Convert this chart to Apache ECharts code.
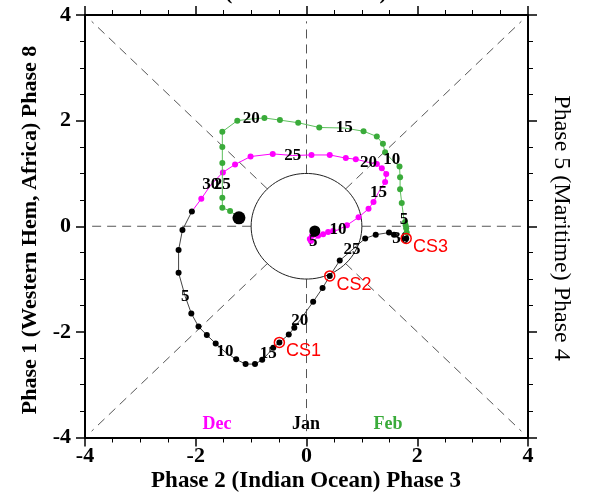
<!DOCTYPE html>
<html>
<head>
<meta charset="utf-8">
<script src="https://cdn.jsdelivr.net/npm/echarts@6/dist/echarts.min.js"></script>
<style>
  html, body { margin: 0; padding: 0; background: #ffffff; }
  #chart { width: 594px; height: 499px; }
</style>
</head>
<body>
<div id="chart"></div>
<script>
// RMM1 / RMM2 daily positions, one pair of arrays per month
const decX = [0.15, 0.10, 0.06, 0.08, 0.12, 0.21, 0.30, 0.39, 0.48, 0.57, 0.73, 0.94, 1.12, 1.21, 1.30, 1.42, 1.44, 1.36, 1.27, 1.12, 0.89, 0.71, 0.42, 0.09, -0.25, -0.61, -1.01, -1.29, -1.51, -1.73, -1.90];
const decY = [-0.09, -0.18, -0.24, -0.28, -0.30, -0.18, -0.15, -0.11, -0.09, -0.07, 0.02, 0.17, 0.33, 0.46, 0.64, 0.84, 0.99, 1.10, 1.18, 1.21, 1.27, 1.29, 1.35, 1.35, 1.34, 1.37, 1.32, 1.17, 1.02, 0.78, 0.52];

const janX = [-2.07, -2.24, -2.31, -2.31, -2.19, -2.08, -1.95, -1.80, -1.64, -1.47, -1.27, -1.10, -0.93, -0.80, -0.69, -0.60, -0.49, -0.32, -0.22, -0.12, 0.12, 0.29, 0.42, 0.60, 0.82, 1.06, 1.25, 1.49, 1.58, 1.70, 1.80];
const janY = [0.28, -0.07, -0.45, -0.88, -1.33, -1.65, -1.90, -2.06, -2.22, -2.38, -2.52, -2.61, -2.61, -2.53, -2.41, -2.30, -2.20, -2.05, -1.92, -1.78, -1.43, -1.17, -0.94, -0.65, -0.45, -0.23, -0.16, -0.12, -0.16, -0.23, -0.23];

const febX = [1.81, 1.80, 1.79, 1.78, 1.76, 1.72, 1.69, 1.69, 1.68, 1.54, 1.42, 1.38, 1.27, 1.03, 0.68, 0.23, -0.15, -0.48, -0.76, -1.00, -1.25, -1.52, -1.52, -1.52, -1.52, -1.52, -1.52, -1.38, -1.22];
const febY = [-0.12, -0.04, 0.02, 0.08, 0.13, 0.44, 0.70, 0.93, 1.13, 1.26, 1.40, 1.56, 1.70, 1.80, 1.86, 1.87, 1.96, 2.01, 2.05, 2.03, 2.00, 1.79, 1.50, 1.20, 0.78, 0.54, 0.35, 0.29, 0.16];

// Case-study days in January (1-based day numbers)
const caseDays = [17, 23, 31];
const caseNames = ['CS1', 'CS2', 'CS3'];

const monthNames = ['Dec', 'Jan', 'Feb'];
const monthColors = ['#ff00ff', '#000000', '#3aab3a'];
const lineColors = ['#ff00ff', '#444444', '#5cbf5c'];

const axisTicks = [-4, -2, 0, 2, 4];

const SERIF = '"Liberation Serif", "Times New Roman", serif';

function monthSeries(xs, ys, nextX, nextY, idx) {
  const data = xs.map((x, i) => {
    const day = i + 1;
    const labelled = day % 5 === 0;
    return {
      value: [x, ys[i]],
      symbolSize: labelled ? 0 : 6,
      label: {
        show: labelled,
        formatter: String(day),
        position: 'inside',
        color: '#000',
        fontFamily: SERIF,
        fontWeight: 'bold',
        fontSize: 17
      }
    };
  });
  if (nextX !== null) {
    data.push({ value: [nextX, nextY], symbolSize: 0, label: { show: false } });
  }
  return {
    type: 'line',
    name: monthNames[idx],
    data: data,
    symbol: 'circle',
    showSymbol: true,
    itemStyle: { color: monthColors[idx], opacity: 1 },
    lineStyle: { color: lineColors[idx], width: 1 },
    z: 5 + idx,
    animation: false,
    silent: true
  };
}

// Reference lines: unit circle and dashed phase dividers
const R = 0.7071, E = 3.88;
const guideSegments = [
  [[0, 1], [0, E]], [[0, -1], [0, -E]],
  [[1, 0], [E, 0]], [[-1, 0], [-E, 0]],
  [[R, R], [E, E]], [[-R, R], [-E, E]],
  [[R, -R], [E, -E]], [[-R, -R], [-E, -E]]
];
const guideSeries = guideSegments.map(seg => ({
  type: 'line',
  data: seg,
  symbol: 'none',
  lineStyle: { color: '#555', width: 1, type: [9, 6] },
  z: 1,
  animation: false,
  silent: true
}));

const circlePts = [];
for (let k = 0; k <= 180; k++) {
  const t = (k / 180) * 2 * Math.PI;
  circlePts.push([Math.cos(t), Math.sin(t)]);
}

const caseData = caseDays.map((d, i) => ({
  value: [janX[d - 1], janY[d - 1]],
  label: { formatter: caseNames[i] }
}));

const tickLabel = {
  fontFamily: SERIF, fontWeight: 'bold', fontSize: 22, color: '#000'
};

function xAx(pos, showLabel) {
  return {
    type: 'value', min: -4, max: 4, interval: 2, position: pos,
    axisLine: { onZero: false, lineStyle: { color: '#000', width: 2 } },
    axisTick: { show: true, length: 9, lineStyle: { color: '#000', width: 1.5 } },
    minorTick: { show: true, splitNumber: 4, length: 5, lineStyle: { color: '#000', width: 1 } },
    splitLine: { show: false },
    axisLabel: Object.assign({ show: showLabel, margin: 8,
      formatter: v => axisTicks.includes(v) ? String(v) : '' }, tickLabel)
  };
}
function yAx(pos, showLabel) {
  return {
    type: 'value', min: -4, max: 4, interval: 2, position: pos,
    axisLine: { onZero: false, lineStyle: { color: '#000', width: 2 } },
    axisTick: { show: true, length: 9, lineStyle: { color: '#000', width: 1.5 } },
    minorTick: { show: true, splitNumber: 4, length: 5, lineStyle: { color: '#000', width: 1 } },
    splitLine: { show: false },
    axisLabel: Object.assign({ show: showLabel, margin: 14,
      formatter: v => axisTicks.includes(v) ? String(v) : '' }, tickLabel)
  };
}

const chart = echarts.init(document.getElementById('chart'), null, { renderer: 'canvas' });

const option = {
  backgroundColor: '#ffffff',
  animation: false,
  grid: { left: 85, right: 66, top: 15, bottom: 61.5, containLabel: false },
  xAxis: [xAx('bottom', true), xAx('top', false)],
  yAxis: [yAx('left', true), yAx('right', false)],
  series: [
    ...guideSeries,
    {
      type: 'line', data: circlePts, symbol: 'none', smooth: false,
      lineStyle: { color: '#222', width: 1 }, z: 1, animation: false, silent: true
    },
    monthSeries(decX, decY, janX[0], janY[0], 0),
    monthSeries(janX, janY, febX[0], febY[0], 1),
    monthSeries(febX, febY, null, null, 2),
    {
      type: 'scatter',
      data: caseData,
      symbol: 'circle',
      symbolSize: 10,
      itemStyle: { color: 'rgba(0,0,0,0)', borderColor: '#ff0000', borderWidth: 1.5, opacity: 1 },
      label: {
        show: true, position: 'right', distance: 1, offset: [0, 9],
        color: '#ff0000', fontFamily: '"Liberation Sans Narrow", "Liberation Sans", sans-serif',
        fontSize: 18
      },
      z: 10, animation: false, silent: true
    },
    {
      type: 'scatter',
      data: [[decX[0], decY[0]]],
      symbol: 'circle', symbolSize: 11,
      itemStyle: { color: '#000', opacity: 1 },
      z: 11, animation: false, silent: true
    },
    {
      type: 'scatter',
      data: [[febX[febX.length - 1], febY[febY.length - 1]]],
      symbol: 'circle', symbolSize: 13,
      itemStyle: { color: '#000', opacity: 1 },
      z: 11, animation: false, silent: true
    }
  ],
  graphic: [
    {
      type: 'text', x: 306, y: 4,
      style: { text: 'Phase 7 (Western Pacific) Phase 6', fontFamily: SERIF, fontWeight: 'bold',
        fontSize: 22, fill: '#000', align: 'center', verticalAlign: 'bottom' }
    },
    {
      type: 'text', x: 306, y: 481,
      style: { text: 'Phase 2 (Indian Ocean) Phase 3', fontFamily: SERIF, fontWeight: 'bold',
        fontSize: 23, fill: '#000', align: 'center', verticalAlign: 'middle' }
    },
    {
      type: 'text', x: 30, y: 230, rotation: Math.PI / 2,
      style: { text: 'Phase 1 (Western Hem, Africa) Phase 8', fontFamily: SERIF, fontWeight: 'bold',
        fontSize: 22, fill: '#000', align: 'center', verticalAlign: 'middle' }
    },
    {
      type: 'text', x: 561, y: 228, rotation: -Math.PI / 2,
      style: { text: 'Phase 5 (Maritime) Phase 4', fontFamily: SERIF, fontWeight: 'normal',
        fontSize: 24, fill: '#000', align: 'center', verticalAlign: 'middle' }
    },
    {
      type: 'text', x: 217, y: 424,
      style: { text: monthNames[0], fontFamily: SERIF, fontWeight: 'bold', fontSize: 18,
        fill: monthColors[0], align: 'center', verticalAlign: 'middle' }
    },
    {
      type: 'text', x: 306, y: 424,
      style: { text: monthNames[1], fontFamily: SERIF, fontWeight: 'bold', fontSize: 18,
        fill: monthColors[1], align: 'center', verticalAlign: 'middle' }
    },
    {
      type: 'text', x: 388, y: 424,
      style: { text: monthNames[2], fontFamily: SERIF, fontWeight: 'bold', fontSize: 18,
        fill: monthColors[2], align: 'center', verticalAlign: 'middle' }
    }
  ]
};

chart.setOption(option);
</script>
</body>
</html>
